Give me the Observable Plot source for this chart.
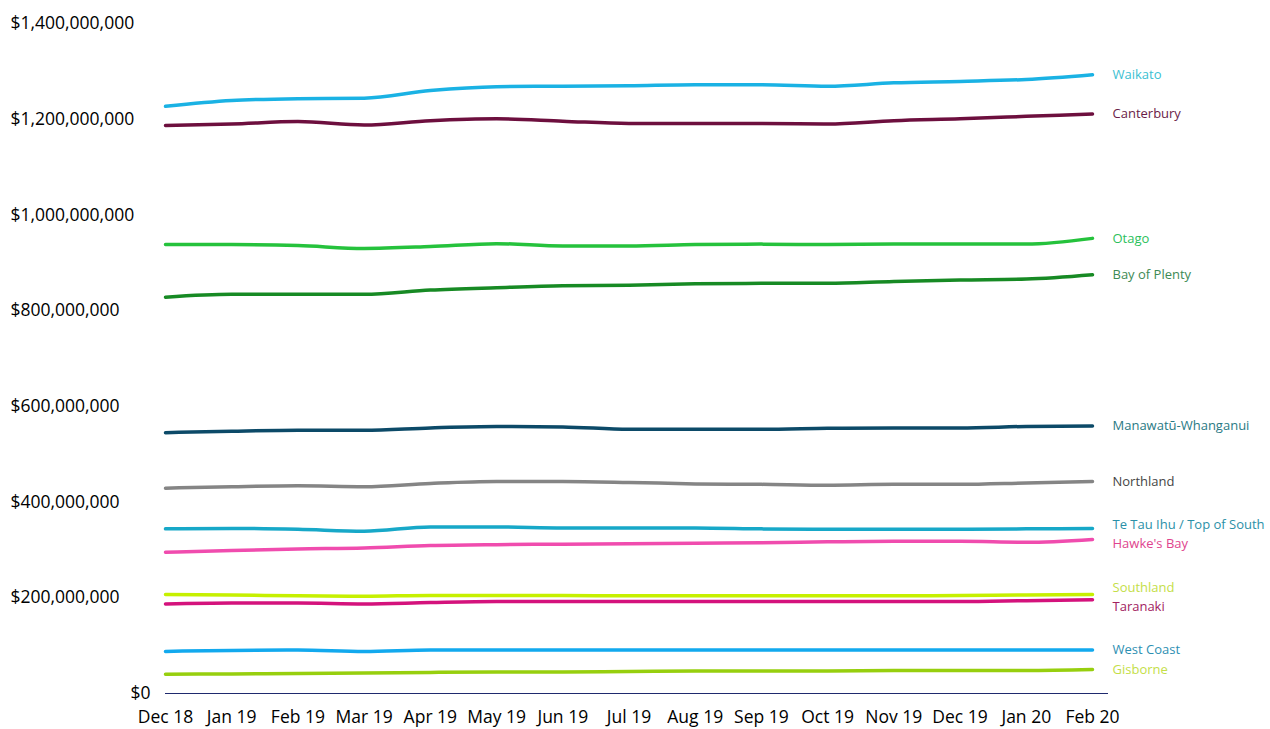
<!DOCTYPE html>
<html>
<head>
<meta charset="utf-8">
<script src="https://cdn.jsdelivr.net/npm/d3@7"></script>
<script src="https://cdn.jsdelivr.net/npm/@observablehq/plot@0.6"></script>
<style>
  html, body { margin: 0; padding: 0; background: #fff; }
  #chart svg { display: block; }
</style>
</head>
<body>
<div id="chart"></div>
<script>
// ---- data (values in $ millions) ----
const months = ["Dec 18","Jan 19","Feb 19","Mar 19","Apr 19","May 19","Jun 19","Jul 19","Aug 19","Sep 19","Oct 19","Nov 19","Dec 19","Jan 20","Feb 20"];
const regions = ["Waikato","Canterbury","Otago","Bay of Plenty","Manawatū-Whanganui","Northland","Te Tau Ihu / Top of South","Hawke's Bay","Southland","Taranaki","West Coast","Gisborne"];

const waikato     = [1227,1239,1243,1244,1260,1268,1269,1270,1272,1272,1269,1276,1279,1283,1293];
const canterbury  = [1187,1190,1195,1188,1197,1201,1196,1191,1191,1191,1190,1197,1201,1206,1211];
const otago       = [938,938,936,930,934,940,935,935,938,939,938,939,939,939,951];
const bayOfPlenty = [828,834,834,834,843,848,852,853,856,857,857,861,864,866,875];
const manawatu    = [545,548,550,550,555,558,557,552,552,552,554,555,555,558,559];
const northland   = [429,432,434,432,439,443,443,441,438,437,435,437,437,440,443];
const teTauIhu    = [344,345,343,339,348,348,346,346,346,344,343,343,343,344,345];
const hawkesBay   = [295,299,302,304,309,311,312,313,314,315,317,318,318,316,322];
const southland   = [207,206,204,203,205,205,205,204,204,204,204,204,205,206,207];
const taranaki    = [187,189,189,187,190,192,192,192,192,192,192,192,192,194,196];
const westCoast   = [88,90,91,88,91,91,91,91,91,91,91,91,91,91,91];
const gisborne    = [40,41,42,43,44,45,45,46,47,47,47,48,48,48,50];

const series = [waikato,canterbury,otago,bayOfPlenty,manawatu,northland,teTauIhu,hawkesBay,southland,taranaki,westCoast,gisborne];
const yTicks = [0,200e6,400e6,600e6,800e6,1000e6,1200e6,1400e6];

// ---- styles ----
const lineColors  = ["#1ab2e4","#6d0f3e","#25c23c","#178a24","#0c4a68","#858585","#17a8c8","#f04cae","#c6f000","#d4127c","#12a9ee","#97cf0e"];
const labelColors = ["#3bbfd2","#6a1c48","#2cbf5c","#3d8a55","#2a7a84","#454545","#2b90a8","#e0448e","#c4de48","#a2225f","#2d8fb2","#c4de48"];

const W = 1270, H = 729;
const yDomain = [0, 1400e6];
const yRange = [693, 23];
const xDomain = [0, 14];
const xRange = [165, 1092];

const rows = regions.flatMap((r, k) => series[k].map((v, i) => ({region: r, i, value: v * 1e6})));

// end labels with simple vertical collision avoidance
const yS = Plot.scale({y: {domain: yDomain, range: yRange}});
const ends = regions.map((r, k) => ({region: r, k, i: 14, py: yS.apply(series[k][14] * 1e6)}));
ends.sort((a, b) => a.py - b.py);
const gap = 19;
for (let it = 0; it < 60; ++it) {
  for (let j = 1; j < ends.length; ++j) {
    const d = ends[j].py - ends[j - 1].py;
    if (d < gap) {
      const s = (gap - d) / 2;
      ends[j - 1].py -= s;
      ends[j].py += s;
    }
  }
}
ends.forEach(e => e.labelValue = yS.invert(e.py));

const fmt = d3.format("$,");

const chart = Plot.plot({
  width: W,
  height: H,
  marginLeft: 165,
  marginRight: 1270 - 1108,
  marginTop: 23,
  marginBottom: H - 693,
  style: {fontFamily: "'Open Sans', sans-serif", background: "#fff", color: "#000"},
  x: {domain: xDomain, range: xRange},
  y: {domain: yDomain, range: yRange},
  marks: [
    Plot.axisY({ticks: yTicks.filter(d => d > 0), tickFormat: fmt, tickSize: 0, tickPadding: 0, textAnchor: "start", dx: -155, fontSize: 17.5, label: null, fill: "#000"}),
    Plot.axisY({ticks: [0], tickFormat: fmt, tickSize: 0, tickPadding: 0, textAnchor: "end", dx: -15, fontSize: 17.5, label: null, fill: "#000"}),
    Plot.axisX({ticks: d3.range(months.length), tickFormat: i => months[i], tickSize: 0, tickPadding: 17, fontSize: 17.5, label: null, fill: "#000"}),
    Plot.ruleY([0], {stroke: "#1f2a6e", strokeWidth: 1}),
    ...regions.map((r, k) => Plot.line(rows.filter(d => d.region === r), {x: "i", y: "value", stroke: lineColors[k], strokeWidth: 3.5, curve: "monotone-x"})),
    ...ends.map(e => Plot.text([e], {x: "i", y: "labelValue", text: "region", dx: 20, textAnchor: "start", fontSize: 13, fill: labelColors[e.k]}))
  ]
});
document.getElementById("chart").appendChild(chart);
</script>
</body>
</html>
